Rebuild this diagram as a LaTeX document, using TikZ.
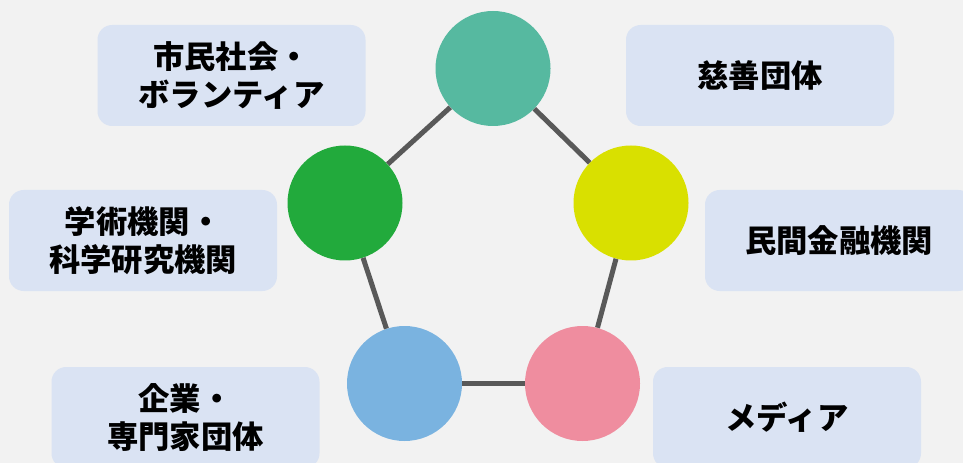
\documentclass[tikz,border=0pt]{standalone}
\usepackage{fontspec}
\newfontfamily\jpfont{Noto Sans CJK JP}
\definecolor{bggray}{HTML}{F2F2F2}
\definecolor{boxblue}{HTML}{DAE3F3}
\definecolor{linkgray}{HTML}{595959}
\definecolor{cteal}{HTML}{56B9A0}
\definecolor{cgreen}{HTML}{22AA3C}
\definecolor{cyellow}{HTML}{D9E000}
\definecolor{cblue}{HTML}{7AB3E0}
\definecolor{cpink}{HTML}{EF8D9F}
\tikzset{
  labelbox/.style={fill=boxblue, rounded corners=11pt, minimum width=201pt,
    minimum height=75.75pt, inner sep=0pt, align=center,
    font=\jpfont\bfseries\fontsize{23.5}{28.5}\selectfont},
  disc/.style={circle, minimum size=86.25pt, inner sep=0pt},
}
\def\link{\draw[linkgray, line width=3.75pt]}

\begin{document}
\begin{tikzpicture}[x=0.75pt, y=-0.75pt]
    \useasboundingbox (0,0) rectangle (963,463);
    \clip (0,0) rectangle (963,463);
    \fill[bggray] (0,0) rectangle (963,463);
    % boxes
    \node[labelbox] (civil)   at (231.5,75.5)  {市民社会・\\ボランティア};
    \node[labelbox] (charity) at (760,75.5)    {慈善団体};
    \node[labelbox] (academy) at (143,240.5)   {学術機関・\\科学研究機関};
    \node[labelbox] (finance) at (839,240.5)   {民間金融機関};
    \node[labelbox] (company) at (185.5,417.5) {企業・\\専門家団体};
    \node[labelbox] (media)   at (787,417.5)   {メディア};
    % circles
    \node[disc, fill=cteal]   (top)    at (493,68.5)    {};
    \node[disc, fill=cgreen]  (left)   at (345,203)     {};
    \node[disc, fill=cyellow] (right)  at (631,203)     {};
    \node[disc, fill=cblue]   (bleft)  at (404.5,383.5) {};
    \node[disc, fill=cpink]   (bright) at (582.5,383.5) {};
    \link (top) -- (right);
    \link (right) -- (bright);
    \link (bright) -- (bleft);
    \link (bleft) -- (left);
    \link (left) -- (top);
\end{tikzpicture}
\end{document}
